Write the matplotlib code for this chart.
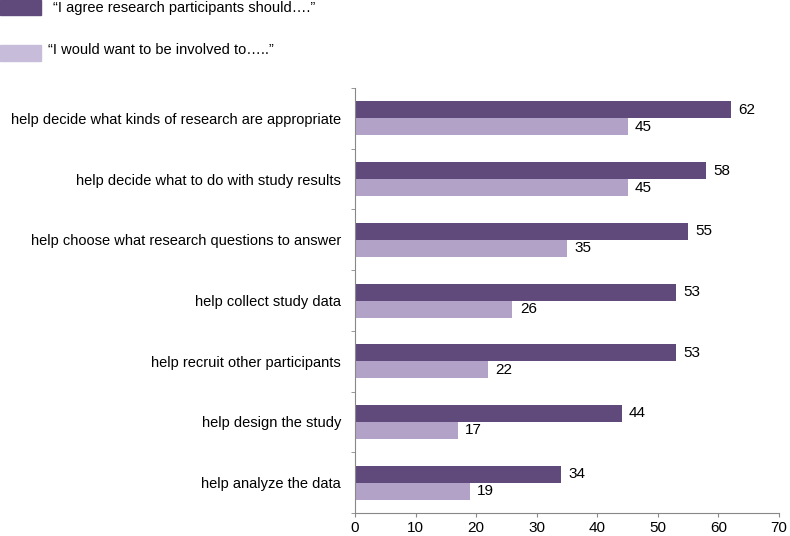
import numpy as np
import matplotlib.pyplot as plt
from matplotlib.patches import Rectangle

plt.rcParams['font.family'] = ['Liberation Sans', 'DejaVu Sans']

categorias = ['help decide what kinds of research are appropriate',
              'help decide what to do with study results',
              'help choose what research questions to answer',
              'help collect study data',
              'help recruit other participants',
              'help design the study',
              'help analyze the data']
agree = [62, 58, 55, 53, 53, 44, 34]
involved = [45, 45, 35, 26, 22, 17, 19]
serie_1 = '\u201cI agree research participants should\u2026.\u201d'
serie_2 = '\u201cI would want to be involved to\u2026..\u201d'

oscuro = '#604a7b'
claro = '#b3a2c7'

fig = plt.figure(figsize=(7.9, 5.36), dpi=100)
ax = fig.add_axes([355/790, 1-513/536, (779-355)/790, (513-88)/536])

y = np.arange(len(categorias))
h = 0.28
b1 = ax.barh(y - h/2, agree, height=h, color=oscuro)
b2 = ax.barh(y + h/2, involved, height=h, color=claro)

for barra, v in zip(b1, agree):
    ax.text(v + 1.2, barra.get_y() + h/2, str(v), va='center', ha='left', fontsize=11)
for barra, v in zip(b2, involved):
    ax.text(v + 1.2, barra.get_y() + h/2, str(v), va='center', ha='left', fontsize=11)

ax.set_ylim(len(categorias) - 0.5, -0.5)
ax.set_xlim(0, 70)
ax.set_xticks(range(0, 71, 10))
ax.set_yticks(y)
ax.set_yticklabels(categorias, fontsize=10.5)
ax.set_yticks(np.arange(-0.5, len(categorias)), minor=True)
ax.tick_params(axis='y', which='major', length=0, pad=10)
ax.tick_params(axis='y', which='minor', length=3, color='#888888', direction='out')
ax.tick_params(axis='x', length=3, color='#888888', labelsize=11, pad=3)

for s in ['top', 'right']:
    ax.spines[s].set_visible(False)
for s in ['left', 'bottom']:
    ax.spines[s].set_color('#888888')
    ax.spines[s].set_linewidth(0.8)

# leyenda manual arriba a la izquierda
fig.patches.append(Rectangle((0, 1-15/536), 41/790, 15/536, transform=fig.transFigure, color=oscuro))
fig.text(53/790, 1-8/536, serie_1, va='center', ha='left', fontsize=10.5)
fig.patches.append(Rectangle((0, 1-61/536), 41/790, 16/536, transform=fig.transFigure, color='#c7bcd9'))
fig.text(48/790, 1-50/536, serie_2, va='center', ha='left', fontsize=10.5)

fig.savefig('out.png', dpi=100)
